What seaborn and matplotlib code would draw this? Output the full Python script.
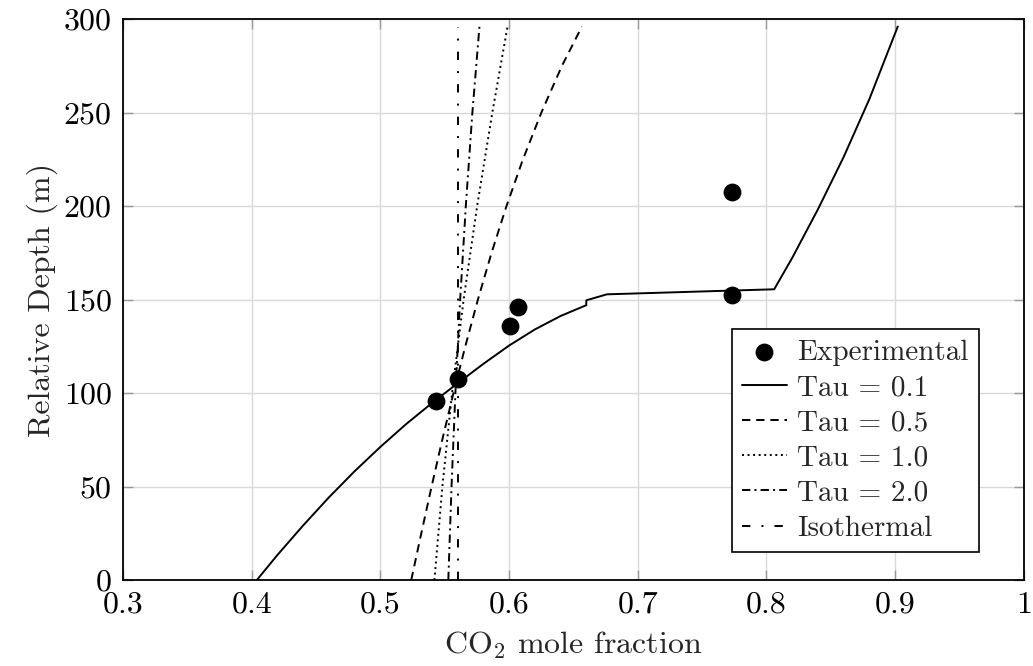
import numpy as np
import matplotlib
matplotlib.use("Agg")
import matplotlib.pyplot as plt
import seaborn as sns
from matplotlib.ticker import FuncFormatter

# experimental points
exp_x = [0.543, 0.560, 0.601, 0.607, 0.773, 0.773]
exp_y = [96, 107.7, 136, 146, 207.5, 152.5]

# model curves
tau01_x = [0.404, 0.42, 0.44, 0.46, 0.48, 0.50, 0.52, 0.54, 0.56, 0.58, 0.60, 0.62, 0.64, 0.66, 0.66,
           0.676, 0.806, 0.82, 0.84, 0.86, 0.88, 0.902]
tau01_y = [0, 13.4, 29.2, 44.2, 58.2, 71.2, 83.4, 94.6, 105.2, 115.6, 125.4, 134, 141.2, 147, 149.6,
           152.8, 155.5, 172.3, 198.3, 226.3, 257.3, 296]

tau05_x = [0.524, 0.5318, 0.5398, 0.5481, 0.5568, 0.566, 0.5758, 0.5864, 0.598, 0.6108, 0.6251,
           0.6411, 0.6566]
tau05_y = [0, 25, 50, 75, 100, 125, 150, 175, 200, 225, 250, 275, 296]

tau10_x = [0.542, 0.5482, 0.5557, 0.5647, 0.5752, 0.587, 0.5988]
tau10_y = [0, 50, 100, 150, 200, 250, 296]

tau20_x = [0.5528, 0.5553, 0.5583, 0.562, 0.5664, 0.5715, 0.577]
tau20_y = [0, 50, 100, 150, 200, 250, 296]

iso_x = [0.5605, 0.5605]
iso_y = [0, 296]

sns.set_style("whitegrid")
plt.rcParams['font.family'] = 'cmr10'
plt.rcParams['mathtext.fontset'] = 'cm'
plt.rcParams['axes.formatter.use_mathtext'] = True
plt.rcParams['lines.scale_dashes'] = False

fig = plt.figure(figsize=(10.33, 6.66), dpi=100)
ax = fig.add_axes([0.119, 0.129, 0.8722, 0.8424])

sns.scatterplot(x=exp_x, y=exp_y, ax=ax, color='black', s=165, linewidth=0,
                label='Experimental', zorder=5)

lw = 1.4
curves = [
    (tau01_x, tau01_y, 'Tau = 0.1', '-'),
    (tau05_x, tau05_y, 'Tau = 0.5', (0, (6, 4.2))),
    (tau10_x, tau10_y, 'Tau = 1.0', (0, (1.4, 2.6))),
    (tau20_x, tau20_y, 'Tau = 2.0', (0, (6, 3, 1.4, 3))),
    (iso_x, iso_y, 'Isothermal', (0, (6, 8, 1.4, 8))),
]
for cx, cy, name, ls in curves:
    sns.lineplot(x=cx, y=cy, ax=ax, sort=False, estimator=None, color='black',
                 linewidth=lw, linestyle=ls, label=name)

ax.set_xlim(0.3, 1.0)
ax.set_ylim(0, 300)
ax.set_xticks(np.arange(0.3, 1.01, 0.1))
ax.set_yticks(np.arange(0, 301, 50))
ax.xaxis.set_major_formatter(FuncFormatter(lambda v, p: f'{v:g}'))
ax.yaxis.set_major_formatter(FuncFormatter(lambda v, p: f'{v:g}'))

ax.grid(True, color='#d9d9d9', linewidth=1.0)
ax.tick_params(direction='in', length=7, width=1, color='#999999', top=True, right=True,
               bottom=True, left=True, labelsize=23, pad=8, labelcolor='black')
for sp in ax.spines.values():
    sp.set_color('black')
    sp.set_linewidth(1.3)

ax.set_xlabel('CO$_2$ mole fraction', fontsize=23, labelpad=8)
ax.set_ylabel('Relative Depth (m)', fontsize=23, labelpad=4)

leg = ax.legend(loc='lower right', bbox_to_anchor=(0.95, 0.05), borderaxespad=0,
                fancybox=False, edgecolor='black', framealpha=1, fontsize=21,
                handlelength=1.55, handletextpad=0.35, borderpad=0.35, labelspacing=0.3)
leg.get_frame().set_linewidth(1.2)

fig.savefig('out.png', dpi=100)
